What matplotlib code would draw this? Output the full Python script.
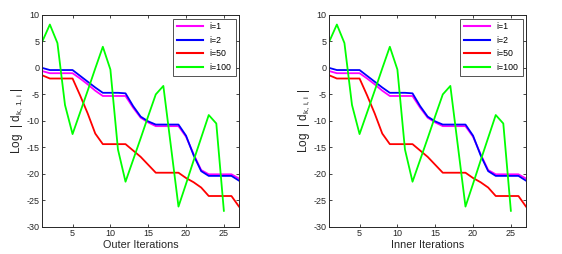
import matplotlib
matplotlib.use("Agg")
import matplotlib.pyplot as plt

plt.rcParams['font.family'] = ['Liberation Sans', 'DejaVu Sans']
plt.rcParams['mathtext.fontset'] = 'custom'
plt.rcParams['mathtext.rm'] = 'Liberation Sans'
plt.rcParams['mathtext.it'] = 'Liberation Sans'
plt.rcParams['axes.unicode_minus'] = False

# iteration index
iters = list(range(1, 28))
iters_green = list(range(1, 26))

# log |d| for each i
d_i1 = [-0.6, -1.0, -1.0, -1.0, -1.0, -2.0, -3.1, -4.3, -5.3, -5.3, -5.3, -5.3, -7.5,
        -9.4, -10.3, -11.0, -11.0, -11.0, -11.0, -13.0, -16.3, -19.3, -20.1, -20.1,
        -20.1, -20.1, -20.9]
d_i2 = [0.0, -0.4, -0.4, -0.4, -0.4, -1.5, -2.6, -3.7, -4.7, -4.7, -4.7, -4.8, -7.2,
        -9.2, -10.1, -10.7, -10.7, -10.7, -10.7, -12.8, -16.5, -19.5, -20.4, -20.4,
        -20.4, -20.4, -21.3]
d_i50 = [-1.4, -2.0, -2.0, -2.0, -2.0, -5.2, -8.6, -12.4, -14.4, -14.4, -14.4, -14.4,
         -15.6, -16.8, -18.3, -19.8, -19.8, -19.8, -19.8, -20.8, -21.6, -22.6, -24.2,
         -24.2, -24.2, -24.2, -26.2]
d_i100 = [5.0, 8.2, 4.7, -7.0, -12.5, -8.4, -4.3, -0.1, 4.0, -0.3, -15.4, -21.5,
          -17.4, -13.3, -9.1, -5.0, -3.4, -14.8, -26.2, -21.9, -17.5, -13.2, -8.9,
          -10.5, -27.0]

series = [
    (iters, d_i1, '#ff00ff', 'i=1'),
    (iters, d_i2, '#0000ff', 'i=2'),
    (iters, d_i50, '#ff0000', 'i=50'),
    (iters_green, d_i100, '#00ff00', 'i=100'),
]

fig = plt.figure(figsize=(5.62, 2.54), dpi=100)
ax1 = fig.add_axes([42.3 / 562, 27.3 / 254, 196.7 / 562, 211.7 / 254])
ax2 = fig.add_axes([329.3 / 562, 27.3 / 254, 196.7 / 562, 211.7 / 254])

panels = [
    (ax1, 'Outer Iterations', r'Log  | d$_{\mathrm{k,\,1,\,i}}$ |'),
    (ax2, 'Inner Iterations', r'Log  | d$_{\mathrm{k,\,i,\,i}}$ |'),
]

for ax, xlab, ylab in panels:
    for x, y, c, lab in series:
        ax.plot(x, y, color=c, lw=1.3, label=lab)
    ax.set_xlim(1, 27)
    ax.set_ylim(-30, 10)
    ax.set_xticks([5, 10, 15, 20, 25])
    ax.set_yticks(range(-30, 11, 5))
    ax.tick_params(direction='in', length=2.5, width=0.6, labelsize=6.5,
                   top=True, right=True, pad=2, colors='#262626')
    for sp in ax.spines.values():
        sp.set_linewidth(0.7)
        sp.set_color('#262626')
    ax.set_xlabel(xlab, fontsize=7.8, color='#262626', labelpad=1)
    ax.set_ylabel(ylab, fontsize=8.5, color='#262626', labelpad=1)
    leg = ax.legend(loc='upper right', fontsize=6.3, frameon=True, fancybox=False,
                    borderpad=0.45, handlelength=2.9, handletextpad=0.8,
                    labelspacing=0.5, borderaxespad=0.4)
    leg.get_frame().set_edgecolor('#262626')
    leg.get_frame().set_linewidth(0.7)
    for line in leg.get_lines():
        line.set_linewidth(1.5)

fig.savefig('out.png', dpi=100)
